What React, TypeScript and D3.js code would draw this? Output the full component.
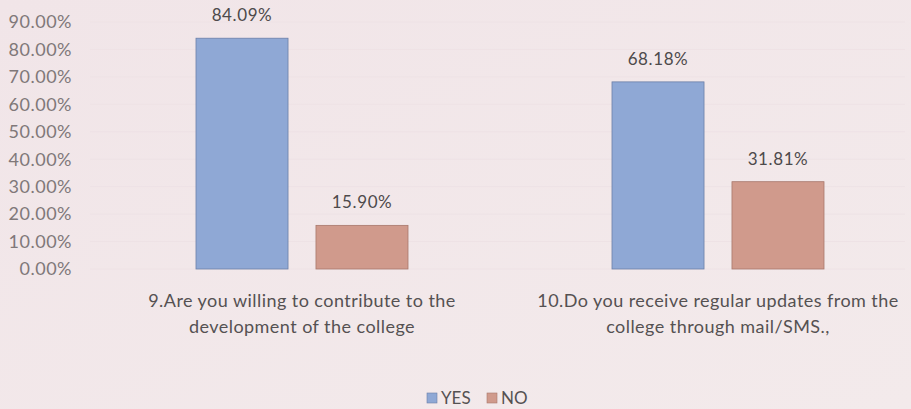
import React from "react";
import * as d3 from "d3";

const categories = [
  ["9.Are you willing to contribute to the", "development of the college"],
  ["10.Do you receive regular updates from the", "college through mail/SMS.,"],
];
const seriesNames = ["YES", "NO"];
const yesValues = [84.09, 68.18];
const noValues = [15.9, 31.81];
const valueLabels = [["84.09%", "15.90%"], ["68.18%", "31.81%"]];
const yTicks = [0, 10, 20, 30, 40, 50, 60, 70, 80, 90];

const W = 911;
const H = 409;
const colors = ["#8fa8d5", "#d09a8c"];
const strokes = ["#6b7fa8", "#a8786c"];
const FONT = "Lato, 'Noto Sans', sans-serif";

export default function App() {
  const keys = categories.map((_, i) => String(i));
  const x0 = d3.scaleBand<string>().domain(keys).range([94, 926]).padding(0);
  const x1 = d3
    .scaleBand<string>()
    .domain(seriesNames)
    .range([102, 314])
    .paddingInner(0.233)
    .paddingOuter(0);
  const y = d3.scaleLinear().domain([0, 90]).range([269, 22]);
  const series = [yesValues, noValues];

  return (
    <svg
      width={W}
      height={H}
      style={{ position: "absolute", left: 0, top: 0, display: "block" }}
    >
      <defs>
        <linearGradient id="bg" x1="0" y1="0" x2="1" y2="1">
          <stop offset="0" stopColor="#f1e5e8" />
          <stop offset="1" stopColor="#f3eaeb" />
        </linearGradient>
      </defs>
      <rect x={0} y={0} width={W} height={H} fill="url(#bg)" />
      {yTicks.map((t) => (
        <g key={t}>
          <line
            x1={90}
            x2={905}
            y1={y(t)}
            y2={y(t)}
            stroke="#eee2e5"
            strokeWidth={1}
          />
          <text
            x={72}
            y={y(t)}
            dy="0.35em"
            textAnchor="end"
            fontFamily={FONT}
            fontSize={18}
            letterSpacing={0.5}
            fill="#807879"
          >
            {d3.format(".2f")(t) + "%"}
          </text>
        </g>
      ))}
      {keys.map((k, ci) => (
        <g key={k} transform={`translate(${x0(k)},0)`}>
          {seriesNames.map((s, si) => {
            const v = series[si][ci];
            const bx = x1(s)!;
            const bw = x1.bandwidth();
            return (
              <g key={s}>
                <rect
                  x={bx}
                  y={y(v)}
                  width={bw}
                  height={y(0) - y(v)}
                  fill={colors[si]}
                  stroke={strokes[si]}
                  strokeWidth={0.8}
                />
                <text
                  x={bx + bw / 2}
                  y={y(v) - 17}
                  textAnchor="middle"
                  fontFamily={FONT}
                  fontSize={17}
                  letterSpacing={0.6}
                  fill="#4d4a4b"
                >
                  {valueLabels[ci][si]}
                </text>
              </g>
            );
          })}
          {categories[ci].map((line, li) => (
            <text
              key={li}
              x={x0.bandwidth() / 2}
              y={307 + li * 26}
              textAnchor="middle"
              fontFamily={FONT}
              fontSize={18}
              letterSpacing={0.45}
              fill="#555152"
            >
              {line}
            </text>
          ))}
        </g>
      ))}
      <g transform="translate(427,398)">
        {seriesNames.map((s, i) => (
          <g key={s} transform={`translate(${i * 60},0)`}>
            <rect
              x={0}
              y={-5}
              width={10}
              height={10}
              fill={colors[i]}
              stroke={strokes[i]}
              strokeWidth={0.6}
            />
            <text
              x={14}
              y={0}
              dy="0.35em"
              fontFamily={FONT}
              fontSize={17}
              fill="#555152"
            >
              {s}
            </text>
          </g>
        ))}
      </g>
    </svg>
  );
}
